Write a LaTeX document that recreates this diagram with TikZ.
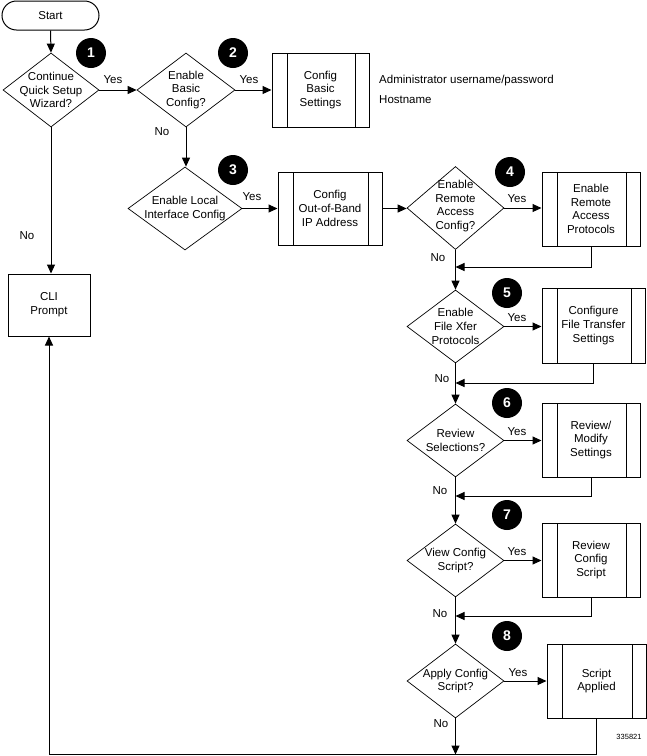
\documentclass[tikz,border=0pt]{standalone}
\usepackage{fontspec}
\setmainfont{Liberation Sans}
\usetikzlibrary{arrows.meta,shapes.geometric}
\begin{document}
\begin{tikzpicture}[x=1pt,y=1pt,
  font=\fontsize{11.5}{13.7}\selectfont,
  dia/.style n args={2}{diamond, draw, line width=0.7pt, inner sep=0pt, minimum width=#1, minimum height=#2},
  dtext/.style={align=center, inner sep=0pt},
  proc/.style n args={2}{rectangle, draw, line width=1pt, inner sep=0pt, align=center,
    minimum width=#1, minimum height=#2,
    path picture={
      \draw[line width=1pt] ([xshift=15pt]path picture bounding box.north west) -- ([xshift=15pt]path picture bounding box.south west);
      \draw[line width=1pt] ([xshift=-14pt]path picture bounding box.north east) -- ([xshift=-14pt]path picture bounding box.south east);
    }},
  startbox/.style={rectangle, draw, line width=1pt, rounded corners=14.5pt, minimum width=97pt, minimum height=29pt, inner sep=0pt},
  plainbox/.style={rectangle, draw, line width=1pt, inner sep=0pt, align=center},
  num/.style={circle, fill=black, minimum size=30pt, inner sep=0pt, text=white, font=\fontsize{14}{14}\selectfont\bfseries},
  lbl/.style={inner sep=0pt},
  arr/.style={line width=1pt, -{Triangle[length=9pt,width=8pt]}},
  ln/.style={line width=1pt}
]
\useasboundingbox (0,0) rectangle (647,-756);

% start and first decision
\node[startbox] (start) at (50.5,-15.5) {Start};
\node[dia={96pt}{74pt}] (d1) at (51,-90) {};
\node[dtext] at (d1) {Continue\\Quick Setup\\Wizard?};
\node[num] (n1) at (91,-53) {1};
\node[lbl] (y1) at (113,-80) {Yes};

\node[plainbox, minimum width=82pt, minimum height=62pt] (cli) at (49,-305) {CLI\\Prompt};
\node[lbl] (no1) at (27,-236) {No};

% second decision
\node[dia={98pt}{74pt}] (d2) at (186,-90) {};
\node[dtext] at (d2) {Enable\\Basic\\Config?};
\node[num] (n2) at (233,-53) {2};
\node[lbl] (y2) at (249,-80) {Yes};
\node[proc={97pt}{74pt}] (b1) at (320.5,-90) {Config\\Basic\\Settings};
\node[lbl, anchor=west] (adm) at (379,-81) {Administrator username/password};
\node[lbl, anchor=west] (host) at (379,-100) {Hostname};
\node[lbl] (no2) at (162,-132) {No};

% third decision
\node[dia={114pt}{83pt}] (d3) at (185,-208.5) {};
\node[dtext] at (d3) {Enable Local\\Interface Config};
\node[num] (n3) at (233,-170) {3};
\node[lbl] (y3) at (252,-197) {Yes};
\node[proc={104pt}{73pt}] (b3) at (330,-208.5) {Config\\Out-of-Band\\IP Address};

% fourth decision
\node[dia={97pt}{83pt}] (d4) at (455.5,-208) {};
\node[dtext] at (455.5,-206) {Enable\\Remote\\Access\\Config?};
\node[num] (n4) at (510,-172) {4};
\node[lbl] (y4) at (517,-199) {Yes};
\node[proc={98pt}{74pt}] (b4) at (591,-209) {Enable\\Remote\\Access\\Protocols};
\node[lbl] (no4) at (438,-258) {No};

% fifth decision
\node[dia={97pt}{73pt}] (d5) at (455.5,-326.5) {};
\node[dtext] at (d5) {Enable\\File Xfer\\Protocols};
\node[num] (n5) at (507,-293) {5};
\node[lbl] (y5) at (517,-318) {Yes};
\node[proc={103pt}{75pt}] (b5) at (593.5,-325.5) {Configure\\File Transfer\\Settings};
\node[lbl] (no5) at (442,-379) {No};

% sixth decision
\node[dia={97pt}{73pt}] (d6) at (455.5,-440.5) {};
\node[dtext] at (d6) {Review\\Selections?};
\node[num] (n6) at (507,-403) {6};
\node[lbl] (y6) at (517,-432) {Yes};
\node[proc={98pt}{74pt}] (b6) at (591,-440) {Review/\\Modify\\Settings};
\node[lbl] (no6) at (440,-491) {No};

% seventh decision
\node[dia={97pt}{73pt}] (d7) at (455.5,-560.5) {};
\node[dtext] at (d7) {View Config\\Script?};
\node[num] (n7) at (507,-515) {7};
\node[lbl] (y7) at (517,-552) {Yes};
\node[proc={98pt}{74pt}] (b7) at (591,-560) {Review\\Config\\Script};
\node[lbl] (no7) at (440,-614) {No};

% eighth decision
\node[dia={97pt}{74pt}] (d8) at (455.5,-681) {};
\node[dtext] at (d8) {Apply Config\\Script?};
\node[num] (n8) at (507,-636) {8};
\node[lbl] (y8) at (518,-673) {Yes};
\node[proc={99pt}{74pt}] (b8) at (596.5,-681) {Script\\Applied};
\node[lbl] (no8) at (441,-724) {No};

\node[lbl, font=\fontsize{7.5}{8}\selectfont] (id) at (629,-737) {335821};

% connectors
\draw[arr] (start.south) -- (d1.north);
\draw[arr] (d1.east) -- (d2.west);
\draw[arr] (d2.east) -- (b1.west);
\draw[arr] (d1.south) -- (d1.south |- cli.north);
\draw[arr] (d2.south) -- (d2.south |- d3.north);
\draw[arr] (d3.east) -- (d3.east -| b3.west);
\draw[arr] (b3.east) -- (b3.east -| d4.west);
\draw[arr] (d4.east) -- (d4.east -| b4.west);
\draw[arr] (d4.south) -- (d5.north);
\draw[arr] (d5.east) -- (d5.east -| b5.west);
\draw[arr] (d5.south) -- (d6.north);
\draw[arr] (d6.east) -- (d6.east -| b6.west);
\draw[arr] (d6.south) -- (d7.north);
\draw[arr] (d7.east) -- (d7.east -| b7.west);
\draw[arr] (d7.south) -- (d8.north);
\draw[arr] (d8.east) -- (d8.east -| b8.west);

% return lines
\coordinate (r4) at (591,-267);
\coordinate (r5) at (593,-383);
\coordinate (r6) at (591,-496);
\coordinate (r7) at (591,-616);
\draw[arr] (b4.south) -- (r4) -- (r4 -| d4.south);
\draw[arr] ([xshift=-0.5pt]b5.south) -- ([xshift=-0.5pt]b5.south |- r5) -- (r5 -| d5.south);
\draw[arr] (b6.south) -- (r6) -- (r6 -| d6.south);
\draw[arr] (b7.south) -- (r7) -- (r7 -| d7.south);

% bottom return to CLI
\coordinate (bot) at (0,-754.5);
\draw[arr] (d8.south) -- (d8.south |- bot);
\draw[arr] (b8.south) |- (bot -| cli.south) -- (cli.south);
\end{tikzpicture}
\end{document}
